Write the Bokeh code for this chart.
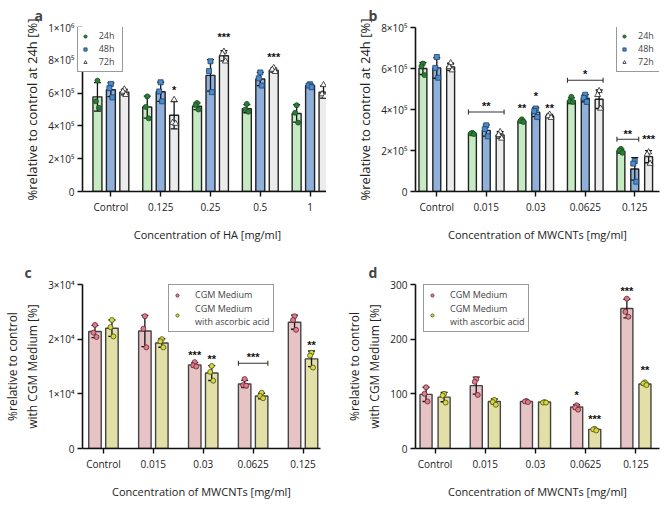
import numpy as np
from bokeh.plotting import figure
from bokeh.layouts import gridplot
from bokeh.models import FixedTicker, Legend, LegendItem
from bokeh.embed import file_html
from bokeh.resources import INLINE

FONT = "Open Sans"

# ---------------- data: panel a (HA) ----------------
cats_a = ["Control", "0.125", "0.25", "0.5", "1"]
a24_mean = [5.77e5, 5.15e5, 5.2e5, 5.05e5, 4.76e5]
a24_pts = [[6.76e5, 5.5e5, 5.1e5], [5.8e5, 5.16e5, 4.46e5], [5.4e5, 5.26e5, 5.0e5],
           [5.34e5, 5.0e5, 4.86e5], [5.26e5, 4.8e5, 4.2e5]]
a48_mean = [6.2e5, 6.08e5, 7.08e5, 6.86e5, 6.46e5]
a48_pts = [[6.56e5, 6.3e5, 5.74e5], [6.66e5, 6.1e5, 5.5e5], [7.94e5, 7.34e5, 6.06e5],
           [7.26e5, 6.9e5, 6.46e5], [6.54e5, 6.46e5, 6.36e5]]
a72_mean = [6.06e5, 4.65e5, 8.28e5, 7.4e5, 6.06e5]
a72_pts = [[6.24e5, 6.1e5, 5.9e5], [5.6e5, 4.2e5, 4.14e5], [8.54e5, 8.4e5, 7.94e5],
           [7.54e5, 7.44e5, 7.3e5], [6.5e5, 5.94e5, 5.8e5]]
a_star_group = [1, 2, 3]
a_star_pos = [2, 2, 2]
a_star_text = ["*", "***", "***"]
a_star_y = [6.2e5, 9.4e5, 8.22e5]
a_yticks = [0, 200000, 400000, 600000, 800000, 1000000]
a_ylabels = ["0", "2×10⁵", "4×10⁵", "6×10⁵", "8×10⁵", "1×10⁶"]

# ---------------- data: panel b (MWCNTs) ----------------
cats_b = ["Control", "0.015", "0.03", "0.0625", "0.125"]
b24_mean = [6.0e5, 2.83e5, 3.44e5, 4.43e5, 1.97e5]
b24_pts = [[6.24e5, 6.11e5, 5.68e5], [2.86e5, 2.83e5, 2.8e5], [3.52e5, 3.44e5, 3.39e5],
           [4.62e5, 4.4e5, 4.37e5], [2.08e5, 2.0e5, 1.89e5]]
b48_mean = [6.03e5, 2.98e5, 3.87e5, 4.55e5, 1.1e5]
b48_pts = [[6.56e5, 6.03e5, 5.55e5], [3.23e5, 3.04e5, 2.69e5], [4.05e5, 3.92e5, 3.63e5],
           [4.72e5, 4.56e5, 4.37e5], [1.49e5, 1.36e5, 0.48e5]]
b72_mean = [6.08e5, 2.76e5, 3.68e5, 4.5e5, 1.7e5]
b72_pts = [[6.27e5, 6.08e5, 5.92e5], [2.91e5, 2.77e5, 2.59e5], [3.76e5, 3.68e5, 3.6e5],
           [4.91e5, 4.72e5, 4.05e5], [1.92e5, 1.81e5, 1.36e5]]
b_star_group = [1, 2, 2, 2, 3, 4, 4]
b_star_pos = [1, 0, 1, 2, 1, 0.5, 2]
b_star_text = ["**", "**", "*", "**", "*", "**", "***"]
b_star_y = [4.16e5, 4.07e5, 4.64e5, 4.07e5, 5.71e5, 2.82e5, 2.58e5]
b_br_group = [1, 3, 4]
b_br_from = [0, 0, 0]
b_br_to = [2, 2, 1]
b_br_y = [3.88e5, 5.43e5, 2.55e5]
b_yticks = [0, 200000, 400000, 600000, 800000]
b_ylabels = ["0", "2×10⁵", "4×10⁵", "6×10⁵", "8×10⁵"]

# ---------------- data: panel c ----------------
cats_c = ["Control", "0.015", "0.03", "0.0625", "0.125"]
c1_mean = [2.14e4, 2.15e4, 1.53e4, 1.18e4, 2.31e4]
c1_pts = [[2.26e4, 2.12e4, 2.04e4], [2.42e4, 2.19e4, 1.85e4], [1.58e4, 1.52e4, 1.5e4],
          [1.27e4, 1.16e4, 1.15e4], [2.42e4, 2.35e4, 2.17e4]]
c2_mean = [2.2e4, 1.93e4, 1.38e4, 0.96e4, 1.64e4]
c2_pts = [[2.35e4, 2.22e4, 2.05e4], [2.0e4, 1.96e4, 1.85e4], [1.51e4, 1.4e4, 1.24e4],
          [1.02e4, 0.96e4, 0.92e4], [1.75e4, 1.7e4, 1.48e4]]
c_star_group = [2, 2, 3, 4]
c_star_pos = [0, 1, 0.5, 1]
c_star_text = ["***", "**", "***", "**"]
c_star_y = [1.705e4, 1.635e4, 1.665e4, 1.885e4]
c_br_group = [3]
c_br_from = [0]
c_br_to = [1]
c_br_y = [1.56e4]
c_yticks = [0, 10000, 20000, 30000]
c_ylabels = ["0", "1×10⁴", "2×10⁴", "3×10⁴"]

# ---------------- data: panel d ----------------
cats_d = ["Control", "0.015", "0.03", "0.0625", "0.125"]
d1_mean = [99, 115, 86, 76, 256]
d1_pts = [[112, 100, 86], [127, 122, 98], [87, 86, 85], [79, 75, 71], [274, 250, 241]]
d2_mean = [94, 86, 85, 35, 118]
d2_pts = [[100, 97, 84], [89, 85, 80], [85, 84, 84], [36, 35, 33], [121, 119, 116]]
d_star_group = [3, 3, 4, 4]
d_star_pos = [0, 1, 0, 1]
d_star_text = ["*", "***", "***", "**"]
d_star_y = [98.5, 54.5, 287.5, 144.5]
d_yticks = [0, 100, 200, 300]
d_ylabels = ["0", "100", "200", "300"]

series_labels_t = ["24h", "48h", "72h"]
series_labels_m = ["CGM Medium", "CGM Medium\nwith ascorbic acid"]

STYLE_T = [
    dict(fill="#c6eac1", marker="circle", mfill="#2a7d34", mline="#1b4d22"),
    dict(fill="#8fb0da", marker="square", mfill="#4a8ccc", mline="#1f3d66"),
    dict(fill="#ececec", marker="triangle", mfill="#ffffff", mline="#222222"),
]
STYLE_M = [
    dict(fill="#e8c3c6", marker="circle", mfill="#e37b8c", mline="#5a2a30"),
    dict(fill="#e2e0a6", marker="circle", mfill="#d7d83f", mline="#4d4d18"),
]
JIT = [0.0, -0.03, 0.03]


def make_panel(letter, cats, means, pts, labels, styles, ylabel, xlabel, ymax, yticks, ylabels,
               x_start, x_end, offsets, bw, stars, brackets, leg_loc, leg_standoff, leg_glyph_w,
               leg_font, leg_spacing, leg_lh, fw, fh, bl, br, bt, bb, title_off, bar_line,
               ylabel_size):
    p = figure(frame_width=fw, frame_height=fh, x_range=(x_start, x_end), y_range=(0, ymax),
               output_backend="svg", toolbar_location=None,
               min_border_left=bl, min_border_right=br, min_border_top=bt, min_border_bottom=bb)
    p.outline_line_color = None
    p.xgrid.visible = False
    p.ygrid.visible = False
    p.background_fill_color = "white"

    p.title.text = letter
    p.title.text_font = FONT
    p.title.text_font_size = "14px"
    p.title.text_font_style = "bold"
    p.title.align = "left"
    p.title.offset = title_off
    p.title.standoff = 6

    n = len(cats)
    items = []
    for s in range(len(means)):
        st = styles[s]
        xs = [i + offsets[s] for i in range(n)]
        p.vbar(x=xs, top=means[s], width=bw, fill_color=st["fill"], line_color=bar_line,
               line_width=1.4)
    for s in range(len(means)):
        xs = [i + offsets[s] for i in range(n)]
        arr = np.array(pts[s], dtype=float)
        sd = arr.std(axis=1, ddof=1)
        lo = np.array(means[s]) - sd
        hi = np.array(means[s]) + sd
        p.segment(x0=xs, y0=lo, x1=xs, y1=hi, line_color="#111111", line_width=1.3)
        p.scatter(x=xs + xs, y=list(lo) + list(hi), marker="dash", size=7,
                  line_color="#111111", line_width=1.3)
    for s in range(len(means)):
        st = styles[s]
        px, py = [], []
        for i in range(n):
            for k, v in enumerate(pts[s][i]):
                px.append(i + offsets[s] + JIT[k % 3])
                py.append(v)
        r = p.scatter(x=px, y=py, marker=st["marker"], size=5 if st["marker"] != "triangle" else 6,
                      fill_color=st["mfill"], line_color=st["mline"], line_width=0.8)
        items.append(LegendItem(label=labels[s], renderers=[r]))

    center = (len(means) - 1) / 2.0
    step = offsets[1] - offsets[0]

    def off(pos):
        return (pos - center) * step

    sg, sp, stxt, sy = stars
    p.text(x=[g + off(q) for g, q in zip(sg, sp)], y=sy, text=stxt,
           text_align="center", text_baseline="middle", text_font_size="11px",
           text_font_style="bold", text_color="#111111")
    if brackets is not None:
        bg, bf, bto, by = brackets
        x0 = [g + off(f) - bw / 2 for g, f in zip(bg, bf)]
        x1 = [g + off(t) + bw / 2 for g, t in zip(bg, bto)]
        p.segment(x0=x0, y0=by, x1=x1, y1=by, line_color="#333333", line_width=1.1)
        p.scatter(x=x0 + x1, y=list(by) + list(by), marker="dash", angle=np.pi / 2, size=5,
                  line_color="#333333", line_width=1.1)

    leg = Legend(items=items, location=leg_loc)
    leg.border_line_color = "#333333"
    leg.border_line_width = 1
    leg.background_fill_color = "white"
    leg.background_fill_alpha = 1
    leg.label_text_font = FONT
    leg.label_text_font_size = leg_font
    leg.label_text_line_height = leg_lh
    leg.label_standoff = leg_standoff
    leg.glyph_width = leg_glyph_w
    leg.glyph_height = 8
    leg.label_height = 8
    leg.spacing = leg_spacing
    leg.padding = 3
    leg.margin = 0
    p.add_layout(leg)

    for ax in (p.xaxis[0], p.yaxis[0]):
        ax.axis_line_width = 1.6
        ax.axis_line_color = "#111111"
        ax.major_tick_line_width = 1.4
        ax.major_tick_line_color = "#111111"
        ax.major_tick_out = 5
        ax.major_tick_in = 0
        ax.minor_tick_line_color = None
        ax.major_label_text_font = FONT
        ax.major_label_text_font_size = "10px"
        ax.major_label_text_color = "#222222"
        ax.axis_label_text_font = FONT
        ax.axis_label_text_font_style = "normal"
        ax.axis_label_text_color = "#222222"
    p.xaxis.ticker = FixedTicker(ticks=list(range(n)))
    p.xaxis.major_label_overrides = {i: c for i, c in enumerate(cats)}
    p.xaxis.axis_label = xlabel
    p.xaxis.axis_label_text_font_size = "11px"
    p.xaxis.axis_label_standoff = 10
    p.xaxis.major_label_standoff = 3
    p.yaxis.ticker = FixedTicker(ticks=yticks)
    p.yaxis.major_label_overrides = {t: l for t, l in zip(yticks, ylabels)}
    p.yaxis.axis_label = ylabel
    p.yaxis.axis_label_text_font_size = ylabel_size
    p.yaxis.axis_label_standoff = 4
    p.yaxis.major_label_standoff = 3
    return p


pa = make_panel("a", cats_a, [a24_mean, a48_mean, a72_mean], [a24_pts, a48_pts, a72_pts],
                series_labels_t, STYLE_T, "%relative to control at 24h [%]",
                "Concentration of HA [mg/ml]", 1e6, a_yticks, a_ylabels,
                -0.57, 4.45, [-0.27, 0.0, 0.27], 0.18,
                (a_star_group, a_star_pos, a_star_text, a_star_y), None,
                (10, 119), 10, 8, "9px", 0, 1.0,
                250, 164, 60, 14, 26, 55, -48, "#222222", "13px")
pb = make_panel("b", cats_b, [b24_mean, b48_mean, b72_mean], [b24_pts, b48_pts, b72_pts],
                series_labels_t, STYLE_T, "%relative to control at 24h [%]",
                "Concentration of MWCNTs [mg/ml]", 8e5, b_yticks, b_ylabels,
                -0.43, 4.5, [-0.28, 0.0, 0.28], 0.16,
                (b_star_group, b_star_pos, b_star_text, b_star_y),
                (b_br_group, b_br_from, b_br_to, b_br_y),
                (201, 119), 10, 8, "9px", 0, 1.0,
                244, 164, 83, 2, 26, 55, -47, "#222222", "13px")
pc = make_panel("c", cats_c, [c1_mean, c2_mean], [c1_pts, c2_pts],
                series_labels_m, STYLE_M, "%relative to control\nwith CGM Medium [%]",
                "Concentration of MWCNTs [mg/ml]", 3e4, c_yticks, c_ylabels,
                -0.42, 4.35, [-0.17, 0.17], 0.25,
                (c_star_group, c_star_pos, c_star_text, c_star_y),
                (c_br_group, c_br_from, c_br_to, c_br_y),
                (86, 116), 13, 10, "9px", 1, 1.1,
                238, 164, 74, 12, 38, 50, -58, "#444444", "12px")
pd_ = make_panel("d", cats_d, [d1_mean, d2_mean], [d1_pts, d2_pts],
                 series_labels_m, STYLE_M, "%relative to control\nwith CGM Medium [%]",
                 "Concentration of MWCNTs [mg/ml]", 300, d_yticks, d_ylabels,
                 -0.39, 4.47, [-0.18, 0.18], 0.24,
                 (d_star_group, d_star_pos, d_star_text, d_star_y), None,
                 (8, 116), 13, 10, "9px", 1, 1.1,
                 244, 164, 83, 2, 38, 50, -47, "#444444", "12px")

grid = gridplot([[pa, pb], [pc, pd_]], toolbar_location=None)
open("out.html", "w").write(file_html(grid, INLINE))
